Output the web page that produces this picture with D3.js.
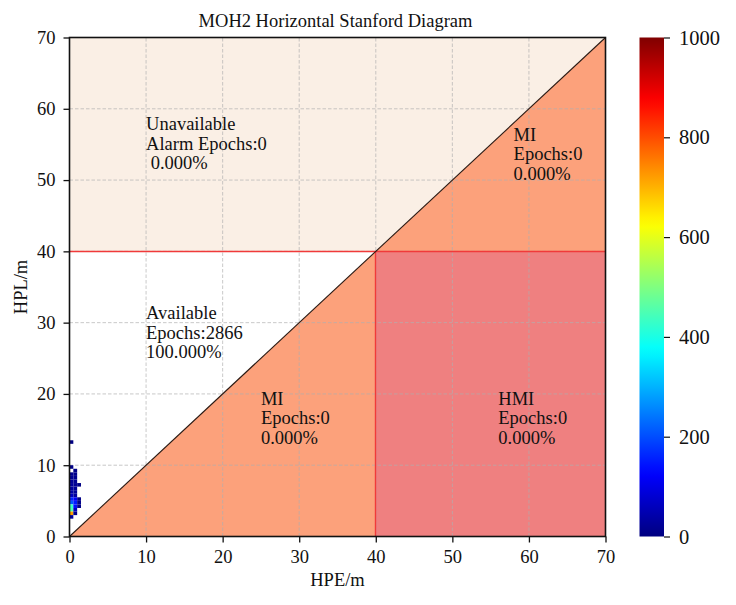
<!DOCTYPE html>
<html lang="en">
<head>
<meta charset="UTF-8">
<title>MOH2 Horizontal Stanford Diagram</title>
<script src="https://d3js.org/d3.v7.min.js"></script>
<style>
  body { margin: 0; background: #fff; }
  svg { display: block; font-family: "Liberation Serif", "Times New Roman", serif; }
</style>
</head>
<body>
<svg id="chart" width="736" height="605"></svg>
<script>
(function () {
  'use strict';

  // histogram cells (bin lower edges, 0.5 m bins) and epoch counts
  const binSize = 0.5;
  const cellHPE = [0, 0, 0, 0, 0, 0, 0, 0, 0, 0, 0, 0, 0, 0, 0,
                   0.5, 0.5, 0.5, 0.5, 0.5, 0.5, 0.5, 0.5, 0.5, 0.5, 0.5, 0.5, 0.5,
                   1.0, 1.0, 1.0, 1.0];
  const cellHPL = [13.0, 9.5, 8.5, 8.0, 7.5, 7.0, 6.5, 6.0, 5.5, 5.0, 4.5, 4.0, 3.5, 3.0, 2.5,
                   9.0, 8.5, 8.0, 7.5, 7.0, 6.5, 6.0, 5.5, 5.0, 4.5, 4.0, 3.5, 3.0,
                   7.0, 5.0, 4.5, 4.0];
  const cellCount = [2, 8, 12, 18, 22, 25, 30, 35, 60, 160, 210, 430, 450, 720, 25,
                     6, 12, 15, 18, 20, 22, 25, 30, 120, 150, 140, 60, 10,
                     5, 8, 10, 8];

  const axisTicks = [0, 10, 20, 30, 40, 50, 60, 70];
  const colorTicks = [0, 200, 400, 600, 800, 1000];
  const alarmLimit = 40;
  const axisMax = 70;

  // region annotations: [x, last-line baseline y, lines]
  const notes = [
    { x: 10, y: 51.5, lines: ['Unavailable', 'Alarm Epochs:0', ' 0.000%'] },
    { x: 58, y: 50, lines: ['MI', 'Epochs:0', '0.000%'] },
    { x: 10, y: 25, lines: ['Available', 'Epochs:2866', '100.000%'] },
    { x: 25, y: 13, lines: ['MI', 'Epochs:0', '0.000%'] },
    { x: 56, y: 13, lines: ['HMI', 'Epochs:0', '0.000%'] }
  ];

  const left = 69.5, right = 605.5, top = 37.5, bottom = 536.5;
  const cbLeft = 639.5, cbRight = 664;
  const fs = '18.5px';

  const svg = d3.select('#chart');
  const x = d3.scaleLinear().domain([0, axisMax]).range([left, right]);
  const y = d3.scaleLinear().domain([0, axisMax]).range([bottom, top]);

  // matplotlib style jet colormap
  const clamp = v => Math.max(0, Math.min(1, v));
  const jet = t => d3.rgb(
    255 * clamp(1.5 - Math.abs(4 * t - 3)),
    255 * clamp(1.5 - Math.abs(4 * t - 2)),
    255 * clamp(1.5 - Math.abs(4 * t - 1))
  ).formatHex();
  const color = d3.scaleLinear().domain([0, 1000]).range([0, 1]).clamp(true);

  const plot = svg.append('g');

  // region fills
  plot.append('rect')
    .attr('x', x(0)).attr('y', y(axisMax))
    .attr('width', x(axisMax) - x(0)).attr('height', y(alarmLimit) - y(axisMax))
    .attr('fill', '#faefe5');
  plot.append('path')
    .attr('d', d3.line()([[x(0), y(0)], [x(axisMax), y(0)], [x(axisMax), y(axisMax)]]) + 'Z')
    .attr('fill', '#fca17b');
  plot.append('rect')
    .attr('x', x(alarmLimit)).attr('y', y(alarmLimit))
    .attr('width', x(axisMax) - x(alarmLimit)).attr('height', y(0) - y(alarmLimit))
    .attr('fill', '#ef8080');

  // grid
  const grid = plot.append('g')
    .attr('stroke', '#b0b0b0').attr('stroke-width', 0.8)
    .attr('stroke-dasharray', '3.5,2').attr('opacity', 0.85);
  grid.selectAll('.gx').data(axisTicks.slice(1, -1)).join('line')
    .attr('x1', d => x(d)).attr('x2', d => x(d))
    .attr('y1', y(0)).attr('y2', y(axisMax));
  grid.selectAll('.gy').data(axisTicks.slice(1, -1)).join('line')
    .attr('y1', d => y(d)).attr('y2', d => y(d))
    .attr('x1', x(0)).attr('x2', x(axisMax));

  // alarm limit lines (snapped to pixel centres) and diagonal
  const yl = Math.floor(y(alarmLimit)) + 0.5;
  const xl = Math.floor(x(alarmLimit)) + 0.5;
  plot.append('line')
    .attr('x1', x(0)).attr('x2', x(axisMax))
    .attr('y1', yl).attr('y2', yl)
    .attr('stroke', '#f03a3a').attr('stroke-width', 1.4);
  plot.append('line')
    .attr('x1', xl).attr('x2', xl)
    .attr('y1', y(0)).attr('y2', yl)
    .attr('stroke', '#f03a3a').attr('stroke-width', 1.4);
  plot.append('line')
    .attr('x1', x(0)).attr('y1', y(0))
    .attr('x2', x(axisMax)).attr('y2', y(axisMax))
    .attr('stroke', '#2a1a14').attr('stroke-width', 1.1);

  // histogram cells
  plot.append('g').selectAll('rect')
    .data(cellCount.map((c, i) => ({ hpe: cellHPE[i], hpl: cellHPL[i], count: c })))
    .join('rect')
    .attr('x', d => x(d.hpe))
    .attr('y', d => y(d.hpl + binSize))
    .attr('width', d => x(d.hpe + binSize) - x(d.hpe))
    .attr('height', d => y(d.hpl) - y(d.hpl + binSize))
    .attr('fill', d => jet(color(d.count)));

  // annotations
  notes.forEach(n => {
    const t = plot.append('text')
      .attr('x', x(n.x)).attr('y', y(n.y))
      .attr('font-size', fs).attr('fill', '#111')
      .style('white-space', 'pre');
    n.lines.forEach((line, i) => {
      t.append('tspan')
        .attr('x', x(n.x))
        .attr('y', y(n.y) - (n.lines.length - 1 - i) * 19.6)
        .text(line);
    });
  });

  // frame
  svg.append('rect')
    .attr('x', left).attr('y', top)
    .attr('width', right - left).attr('height', bottom - top)
    .attr('fill', 'none').attr('stroke', '#111').attr('stroke-width', 1.6);

  // axes
  const xAxis = svg.append('g')
    .attr('transform', `translate(0,${bottom})`)
    .call(d3.axisBottom(x).tickValues(axisTicks).tickSize(6).tickPadding(7));
  const yAxis = svg.append('g')
    .attr('transform', `translate(${left},0)`)
    .call(d3.axisLeft(y).tickValues(axisTicks).tickSize(6).tickPadding(8));
  [xAxis, yAxis].forEach(a => {
    a.select('.domain').remove();
    a.selectAll('line').attr('stroke', '#111').attr('stroke-width', 1.3);
    a.selectAll('text').attr('font-size', fs).attr('fill', '#111')
      .attr('font-family', '"Liberation Serif", "Times New Roman", serif');
  });

  // labels and title
  svg.append('text')
    .attr('x', (left + right) / 2 - 2).attr('y', 26.5)
    .attr('text-anchor', 'middle').attr('font-size', '18.5px').attr('fill', '#111')
    .text('MOH2 Horizontal Stanford Diagram');
  svg.append('text')
    .attr('x', (left + right) / 2).attr('y', 585.5)
    .attr('text-anchor', 'middle').attr('font-size', fs).attr('fill', '#111')
    .text('HPE/m');
  svg.append('text')
    .attr('transform', `translate(27,${(top + bottom) / 2}) rotate(-90)`)
    .attr('text-anchor', 'middle').attr('font-size', fs).attr('fill', '#111')
    .text('HPL/m');

  // colorbar
  const grad = svg.append('defs').append('linearGradient')
    .attr('id', 'jetGrad')
    .attr('x1', 0).attr('y1', 1).attr('x2', 0).attr('y2', 0);
  d3.range(0, 1.0001, 0.02).forEach(t => {
    grad.append('stop').attr('offset', t).attr('stop-color', jet(t));
  });
  svg.append('rect')
    .attr('x', cbLeft).attr('y', top)
    .attr('width', cbRight - cbLeft).attr('height', bottom - top)
    .attr('fill', 'url(#jetGrad)');
  const cScale = d3.scaleLinear().domain([0, 1000]).range([bottom, top]);
  const cAxis = svg.append('g')
    .attr('transform', `translate(${cbRight},0)`)
    .call(d3.axisRight(cScale).tickValues(colorTicks).tickFormat(d3.format('d'))
      .tickSize(6).tickPadding(9));
  cAxis.select('.domain').remove();
  cAxis.selectAll('line').attr('stroke', '#111').attr('stroke-width', 1.2);
  cAxis.selectAll('text').attr('font-size', '20.5px').attr('fill', '#111')
    .attr('font-family', '"Liberation Serif", "Times New Roman", serif');
}());
</script>
</body>
</html>
